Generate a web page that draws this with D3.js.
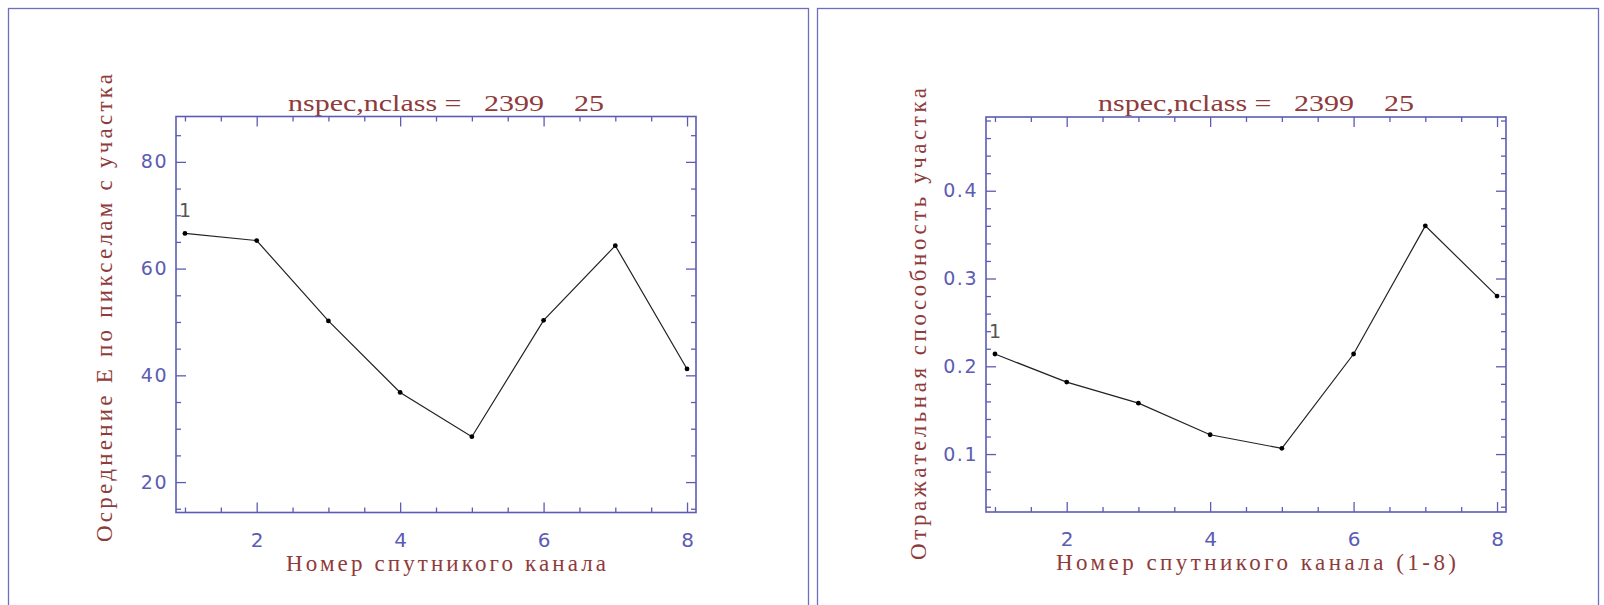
<!DOCTYPE html>
<html>
<head>
<meta charset="utf-8">
<script src="https://cdn.jsdelivr.net/npm/d3@7"></script>
<style>
  html, body { margin: 0; padding: 0; background: #fff; }
  svg { display: block; }
  .tick text { font-family: "DejaVu Sans", "Liberation Sans", sans-serif; }
</style>
</head>
<body>
<div id="graf"></div>
<script>
// данные
const channels = [1, 2, 3, 4, 5, 6, 7, 8]
const meanE = [66.6, 65.25, 50.2, 36.8, 28.5, 50.3, 64.3, 41.2]
const reflect = [0.214, 0.182, 0.158, 0.122, 0.1065, 0.214, 0.36, 0.28]

const xTicks = [2, 4, 6, 8]
const xMinor = [1, 1.5, 2.5, 3, 3.5, 4.5, 5, 5.5, 6.5, 7, 7.5]
const yTicksLeft = [20, 40, 60, 80]
const yMinorLeft = [15, 25, 30, 35, 45, 50, 55, 65, 70, 75, 85]
const yTicksRight = [0.1, 0.2, 0.3, 0.4]
const yMinorRight = [0.04, 0.06, 0.08, 0.12, 0.14, 0.16, 0.18, 0.22, 0.24, 0.26, 0.28,
  0.32, 0.34, 0.36, 0.38, 0.42, 0.44, 0.46, 0.48]

const titleText = 'nspec,nclass =   2399    25'
const yTitles = ['Осреднение Е по пикселам с участка', 'Отражательная способность участка']
const xTitles = ['Номер спутникого канала', 'Номер спутникого канала (1-8)']

const axisColor = '#5c5cb4'
const textRed = '#8e3b3b'

const svg = d3.select('#graf')
  .append('svg')
  .attr('width', 1604)
  .attr('height', 605)

// рамки панелей
svg.append('rect').attr('x', 8.5).attr('y', 8.5).attr('width', 800).attr('height', 620)
  .attr('fill', 'none').attr('stroke', '#6e6ec0').attr('stroke-width', 1.3)
svg.append('rect').attr('x', 817.5).attr('y', 8.5).attr('width', 781).attr('height', 620)
  .attr('fill', 'none').attr('stroke', '#6e6ec0').attr('stroke-width', 1.3)

const panels = [
  {
    left: 176, top: 116.5, width: 520, height: 396,
    values: meanE, yDomain: [14.3, 88.5],
    yTicks: yTicksLeft, yMinor: yMinorLeft, yFmt: d3.format('d'),
    yTitle: yTitles[0], yTitleX: 112, yTitleY: 308, yTitleLen: 468,
    xTitle: xTitles[0], xTitleLen: 320
  },
  {
    left: 986, top: 117, width: 520, height: 395,
    values: reflect, yDomain: [0.034, 0.484],
    yTicks: yTicksRight, yMinor: yMinorRight, yFmt: d3.format('.1f'),
    yTitle: yTitles[1], yTitleX: 926, yTitleY: 324, yTitleLen: 472,
    xTitle: xTitles[1], xTitleLen: 400
  }
]

panels.forEach(p => {
  const g = svg.append('g').attr('transform', `translate(${p.left}, ${p.top})`)

  const x = d3.scaleLinear().domain([0.875, 8.125]).range([0, p.width])
  const y = d3.scaleLinear().domain(p.yDomain).range([p.height, 0])

  // большие и малые штрихи внутрь рамки
  const addAxis = (axis, tr, labels) => {
    const a = g.append('g').attr('transform', tr).call(axis)
    a.select('.domain').remove()
    a.selectAll('line').attr('stroke', axisColor).attr('stroke-width', 1.3)
    if (!labels) a.selectAll('text').remove()
    return a
  }

  const bx = addAxis(d3.axisBottom(x).tickValues(xTicks).tickSize(-10).tickFormat(d3.format('d')),
    `translate(0, ${p.height})`, true)
  bx.selectAll('text').attr('fill', axisColor).attr('font-size', 20).attr('dy', 0)
    .attr('y', 34)
  addAxis(d3.axisBottom(x).tickValues(xMinor).tickSize(-5), `translate(0, ${p.height})`, false)
  addAxis(d3.axisTop(x).tickValues(xTicks).tickSize(-10), 'translate(0, 0)', false)
  addAxis(d3.axisTop(x).tickValues(xMinor).tickSize(-5), 'translate(0, 0)', false)

  const ly = addAxis(d3.axisLeft(y).tickValues(p.yTicks).tickSize(-10).tickFormat(p.yFmt),
    'translate(0, 0)', true)
  ly.selectAll('text').attr('fill', axisColor).attr('font-size', 19).attr('x', -8)
    .attr('letter-spacing', 1.5)
  addAxis(d3.axisLeft(y).tickValues(p.yMinor).tickSize(-5), 'translate(0, 0)', false)
  addAxis(d3.axisRight(y).tickValues(p.yTicks).tickSize(-10), `translate(${p.width}, 0)`, false)
  addAxis(d3.axisRight(y).tickValues(p.yMinor).tickSize(-5), `translate(${p.width}, 0)`, false)

  // рамка графика
  g.append('rect')
    .attr('width', p.width).attr('height', p.height)
    .attr('fill', 'none').attr('stroke', axisColor).attr('stroke-width', 1.6)

  // линия данных
  const pts = channels.map((c, i) => [c, p.values[i]])
  g.append('path')
    .datum(pts)
    .attr('d', d3.line().x(d => x(d[0])).y(d => y(d[1])))
    .attr('fill', 'none').attr('stroke', '#222').attr('stroke-width', 1.2)

  g.selectAll('circle.pt')
    .data(pts)
    .enter()
    .append('circle')
    .attr('class', 'pt')
    .attr('cx', d => x(d[0])).attr('cy', d => y(d[1]))
    .attr('r', 2.4).attr('fill', '#000')

  // номер первой точки
  g.append('text')
    .attr('x', x(channels[0]))
    .attr('y', y(p.values[0]) - 16)
    .attr('text-anchor', 'middle')
    .attr('font-family', 'DejaVu Sans, sans-serif')
    .attr('font-size', 19)
    .attr('fill', '#555')
    .text('1')

  // заголовок
  g.append('text')
    .attr('x', p.width / 2 + 10)
    .attr('y', -6)
    .attr('text-anchor', 'middle')
    .attr('font-family', 'Liberation Serif, serif')
    .attr('font-size', 23)
    .attr('fill', textRed)
    .attr('xml:space', 'preserve')
    .style('white-space', 'pre')
    .attr('textLength', 316)
    .attr('lengthAdjust', 'spacingAndGlyphs')
    .text(titleText)

  // подпись оси X
  g.append('text')
    .attr('x', p.width / 2 + 10)
    .attr('y', p.height + 58)
    .attr('text-anchor', 'middle')
    .attr('font-family', 'Liberation Serif, serif')
    .attr('font-size', 23)
    .attr('fill', textRed)
    .attr('textLength', p.xTitleLen)
    .attr('lengthAdjust', 'spacing')
    .text(p.xTitle)

  // подпись оси Y
  svg.append('text')
    .attr('transform', `translate(${p.yTitleX}, ${p.yTitleY}) rotate(-90)`)
    .attr('text-anchor', 'middle')
    .attr('font-family', 'Liberation Serif, serif')
    .attr('font-size', 23)
    .attr('fill', textRed)
    .attr('textLength', p.yTitleLen)
    .attr('lengthAdjust', 'spacing')
    .text(p.yTitle)
})
</script>
</body>
</html>
